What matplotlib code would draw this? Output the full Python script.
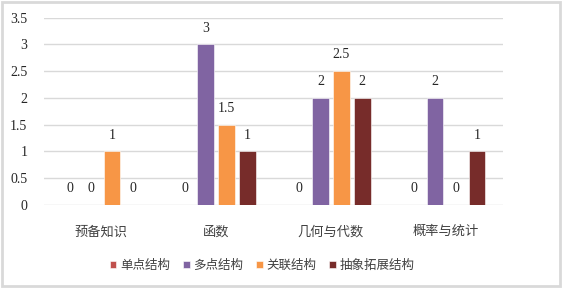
import matplotlib
matplotlib.use("Agg")
import matplotlib.pyplot as plt
import numpy as np
from matplotlib.patches import Rectangle

plt.rcParams['font.family'] = ['Liberation Serif', 'Noto Sans CJK SC', 'DejaVu Sans']

categories = ['预备知识', '函数', '几何与代数', '概率与统计']
series_names = ['单点结构', '多点结构', '关联结构', '抽象拓展结构']
values = {
    '单点结构': [0, 0, 0, 0],
    '多点结构': [0, 3, 2, 2],
    '关联结构': [1, 1.5, 2.5, 0],
    '抽象拓展结构': [0, 1, 2, 1],
}
colors = ['#C0504D', '#8064A2', '#F79646', '#772C2A']
yticks = [0, 0.5, 1, 1.5, 2, 2.5, 3, 3.5]

fig = plt.figure(figsize=(5.63, 2.90), dpi=100)
ax = fig.add_axes([44/563, 1-205/290, (503-44)/563, (205-17.7)/290])

x = np.arange(len(categories))
pitch = 0.183
width = 0.142
for i, name in enumerate(series_names):
    offs = (i - 1.5) * pitch
    bars = ax.bar(x + offs, values[name], width, color=colors[i], label=name,
                  edgecolor='white', linewidth=0.4, zorder=3)
    labels = [('%g' % v) for v in values[name]]
    ax.bar_label(bars, labels=labels, padding=7, fontsize=10, color='#262626')

ax.set_xlim(-0.5, len(categories) - 0.5)
ax.set_ylim(0, 3.5)
ax.set_yticks(yticks)
ax.set_yticklabels(['%g' % t for t in yticks], fontsize=10, color='#262626')
ax.set_xticks(x)
ax.set_xticklabels(categories, fontsize=9.5, color='#404040')
ax.tick_params(axis='both', length=0)
ax.tick_params(axis='y', pad=12)
ax.tick_params(axis='x', pad=15)
for s in ax.spines.values():
    s.set_visible(False)
ax.grid(axis='y', color='#D9D9D9', linewidth=1, zorder=0)
ax.set_axisbelow(True)

leg = fig.legend(loc='center', bbox_to_anchor=(262/563, 1-266/290), ncol=4,
                 frameon=False, fontsize=9, handlelength=0.55, handleheight=0.55,
                 handletextpad=0.3, columnspacing=1.0)
for t in leg.get_texts():
    t.set_color('#404040')

fig.patches.append(Rectangle((1.5/563, 1-286/290), 558/563, 284/290,
                             transform=fig.transFigure, fill=False,
                             edgecolor='#D9D9D9', linewidth=2))

fig.savefig('out.png', dpi=100)
